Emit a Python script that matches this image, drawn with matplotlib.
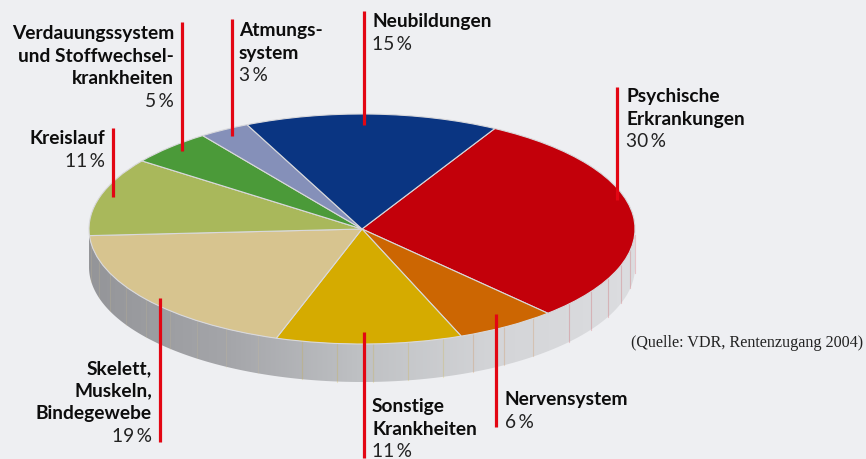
import numpy as np
import matplotlib
matplotlib.use("Agg")
import matplotlib.pyplot as plt
from matplotlib.patches import Polygon

# data (clockwise from the Psychische slice)
names = ["Psychische\nErkrankungen", "Nervensystem", "Sonstige\nKrankheiten",
         "Skelett,\nMuskeln,\nBindegewebe", "Kreislauf",
         "Verdauungssystem\nund Stoffwechsel-\nkrankheiten", "Atmungs-\nsystem",
         "Neubildungen"]
shares = [30, 6, 11, 19, 11, 5, 3, 15]
colors = ["#c3000a", "#cc6602", "#d5ab00", "#d7c48f", "#a9b85b", "#4b9a39",
          "#8590b9", "#0a3582"]
source = "(Quelle: VDR, Rentenzugang 2004)"

# layout in pixels: (text x, first baseline, align, red line x, line top, line bottom)
layout = [
    (626, 102, "left", 617, 88, 201),
    (505, 405, "left", 496, 315, 428),
    (372, 412, "left", 364, 333, 459),
    (152, 374, "right", 160, 299, 443),
    (105, 144, "right", 113, 129, 198),
    (174, 39, "right", 182, 23, 152),
    (239, 36, "left", 232, 20, 137),
    (372, 27, "left", 364, 12, 126),
]

W, H = 866, 460
cx, cy, ax_r, ay_r = 362, 230, 273, 115
depth = 38 / ay_r
bg = "#eeeff2"


def px(x, y):
    return (x - cx) / ax_r, (cy - y) / ay_r


fig = plt.figure(figsize=(W / 100, H / 100), dpi=100, facecolor=bg)
ax = fig.add_axes([0, 0, 1, 1])
ax.set_facecolor(bg)

# side of the disc
t = np.linspace(np.pi, 2 * np.pi, 200)
top = np.column_stack([np.cos(t), np.sin(t)])
bot = np.column_stack([np.cos(t[::-1]), np.sin(t[::-1]) - depth])
side = Polygon(np.vstack([top, bot]), closed=True, facecolor="none", edgecolor="none")
ax.add_patch(side)
grad = np.linspace(0, 1, 256)
cmap = matplotlib.colors.LinearSegmentedColormap.from_list(
    "side", ["#949599", "#a4a5a9", "#bfc1c4", "#d4d5d8", "#dcdde0"])
img = ax.imshow(grad[None, :], cmap=cmap, extent=(-1, 1, -1 - depth, 0.05),
                aspect="auto", zorder=1)
img.set_clip_path(side)

# faint vertical seams on the side, tinted by the slice above
start = 60.9
edges = start - np.cumsum([0] + shares) * 3.6
for i in range(len(shares)):
    a0, a1 = edges[i], edges[i + 1]
    for a in np.arange(a0 - 4, a1, -7.5):
        r = np.deg2rad(a)
        if np.sin(r) < -0.02:
            ax.plot([np.cos(r)] * 2, [np.sin(r), np.sin(r) - depth],
                    color=colors[i], alpha=0.18, lw=0.8, zorder=2)

# top face
ax.pie(shares, colors=colors, startangle=start, counterclock=False,
       wedgeprops=dict(edgecolor="#d9d9dc", linewidth=0.8, zorder=3))
ax.set_aspect("auto")
ax.set_xlim(-cx / ax_r, (W - cx) / ax_r)
ax.set_ylim((cy - H) / ay_r, cy / ay_r)
ax.axis("off")

bold = dict(family=["Lato", "DejaVu Sans"], weight="bold", fontsize=13.8, color="#0d0d0d")
norm = dict(family=["Lato", "DejaVu Sans"], fontsize=13.8, color="#222222")
step = 22.6
for name, share, (tx, ty, ha, lx, l0, l1) in zip(names, shares, layout):
    lines = name.split("\n")
    for k, line in enumerate(lines):
        ax.text(*px(tx, ty + k * step), line, ha=ha, va="baseline", zorder=5, **bold)
    ax.text(*px(tx, ty + len(lines) * step), f"{share}\u2009%", ha=ha,
            va="baseline", zorder=5, **norm)
    ax.plot(*zip(px(lx, l0), px(lx, l1)), color="#e30613", lw=2.3,
            solid_capstyle="butt", zorder=6)

ax.text(*px(863, 347), source, ha="right", va="baseline",
        family=["Liberation Serif", "DejaVu Serif"], fontsize=11.6, color="#222222")

fig.savefig("out.png", dpi=100, facecolor=bg)
